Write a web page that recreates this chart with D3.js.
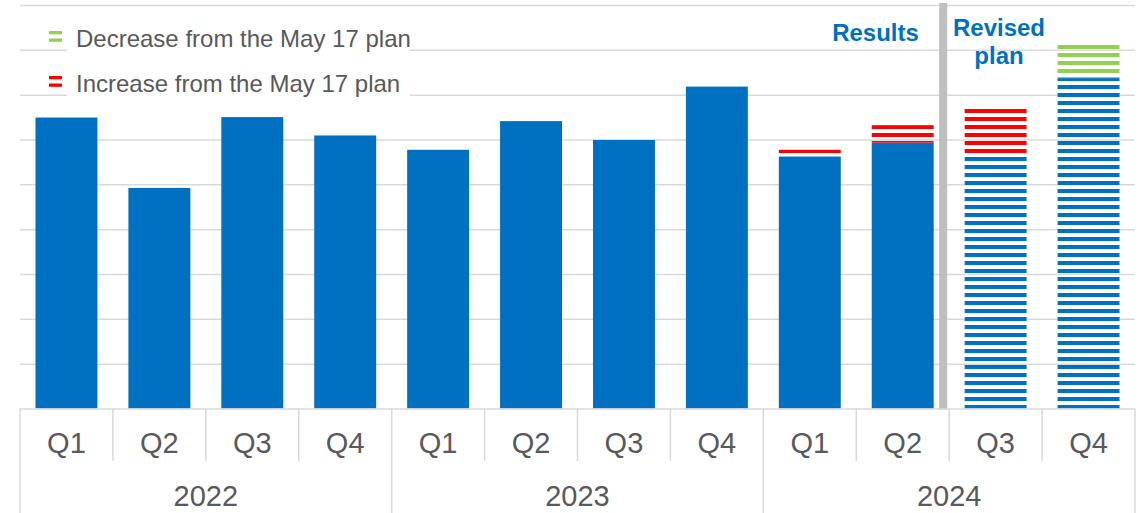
<!DOCTYPE html>
<html>
<head>
<meta charset="utf-8">
<script src="https://cdn.jsdelivr.net/npm/d3@7"></script>
<style>
  html, body { margin: 0; padding: 0; background: #ffffff; }
  svg { display: block; font-family: "Liberation Sans", Arial, sans-serif; }
</style>
</head>
<body>
<script>
// Quarterly values, in chart units (one unit per gridline)
const yearLabels = ["2022", "2023", "2024"];
const quarterLabels = ["Q1", "Q2", "Q3", "Q4"];
const periodKind = ["result", "result", "result", "result",
                    "result", "result", "result", "result",
                    "result", "result", "plan", "plan"];
const baseValues = [6.49, 4.92, 6.50, 6.09, 5.77, 6.41, 5.99, 7.18, 5.62, 5.93, 5.66, 7.37];
const increaseValues = [0, 0, 0, 0, 0, 0, 0, 0, 0.15, 0.39, 1.04, 0];
const decreaseValues = [0, 0, 0, 0, 0, 0, 0, 0, 0, 0, 0, 0.77];
const legendLabels = ["Decrease from the May 17 plan", "Increase from the May 17 plan"];
const sectionLabels = ["Results", "Revised plan"];

const W = 1143, H = 513;
const plotLeft = 20, plotRight = 1135, plotTop = 5, plotBase = 408.5;
const blue = "#0070c0", red = "#ff0000", green = "#92d050";
const gridColor = "#d9d9d9", textColor = "#595959";

const periods = yearLabels.flatMap(yr => quarterLabels.map(q => yr + " " + q));
const rows = periods.map((p, i) => ({
  period: p, kind: periodKind[i],
  base: baseValues[i], increase: increaseValues[i], decrease: decreaseValues[i]
}));

const svg = d3.select("body").append("svg").attr("width", W).attr("height", H);

// Horizontal stripe fills for plan / change segments
const defs = svg.append("defs");
function stripe(id, color) {
  const p = defs.append("pattern").attr("id", id)
    .attr("patternUnits", "userSpaceOnUse")
    .attr("x", 0).attr("y", 5).attr("width", W).attr("height", 8);
  p.append("rect").attr("x", 0).attr("y", 0).attr("width", W).attr("height", 4).attr("fill", color);
}
stripe("stripe-blue", blue);
stripe("stripe-red", red);
stripe("stripe-green", green);

const x = d3.scaleBand().domain(periods).range([plotLeft, plotRight])
  .paddingInner(1 / 3).paddingOuter(1 / 6);
const y = d3.scaleLinear().domain([0, 9]).range([plotBase, plotTop]);

// Gridlines
const grid = svg.append("g").attr("transform", `translate(${plotLeft},0)`)
  .call(d3.axisLeft(y).tickValues(d3.range(1, 10)).tickSize(-(plotRight - plotLeft)).tickFormat(""));
grid.select(".domain").remove();
grid.selectAll(".tick line").attr("stroke", gridColor).attr("stroke-width", 1.5);

// Legend (white panel interrupts the gridlines behind the labels)
const legend = svg.append("g");
legend.append("rect").attr("x", 67).attr("y", 18).attr("width", 343).attr("height", 82).attr("fill", "#fff");
const legendColors = [green, red];
const legendY = [46.5, 91.5];
legendLabels.forEach((t, i) => {
  const g = legend.append("g");
  g.append("rect").attr("x", 49).attr("y", legendY[i] - 15.5).attr("width", 13).attr("height", 3.3).attr("fill", legendColors[i]);
  g.append("rect").attr("x", 49).attr("y", legendY[i] - 8).attr("width", 13).attr("height", 3.3).attr("fill", legendColors[i]);
  g.append("text").attr("x", 76).attr("y", legendY[i]).attr("font-size", 24)
    .attr("fill", textColor).text(t);
});

// Stacked bars
const stack = d3.stack().keys(["base", "increase", "decrease"])(rows);
function fillFor(key, d) {
  if (key === "base") return d.data.kind === "plan" ? "url(#stripe-blue)" : blue;
  if (key === "increase") return "url(#stripe-red)";
  return "url(#stripe-green)";
}
svg.append("g").selectAll("g").data(stack).join("g")
  .selectAll("rect").data(s => s.map(d => ({ key: s.key, d })))
  .join("rect")
  .filter(o => o.d[1] - o.d[0] > 0)
  .attr("x", o => x(o.d.data.period))
  .attr("width", x.bandwidth())
  .attr("y", o => y(o.d[1]))
  .attr("height", o => y(o.d[0]) - y(o.d[1]))
  .attr("fill", o => fillFor(o.key, o.d));

// Divider between results and revised plan
const firstPlan = periods[periodKind.indexOf("plan")];
const divX = x(firstPlan) - x.step() * x.paddingInner() / 2 - 10;
svg.append("rect").attr("x", divX).attr("y", 3).attr("width", 8).attr("height", plotBase + 1 - 3)
  .attr("fill", "#bfbfbf");

// Section titles
const sec = svg.append("g").attr("fill", blue).attr("font-weight", "bold")
  .attr("font-size", 24).attr("text-anchor", "middle");
sec.append("text").attr("x", 875.5).attr("y", 40.5).text(sectionLabels[0]);
const rev = sec.append("text").attr("x", 999);
sectionLabels[1].split(" ").forEach((w, i) => {
  rev.append("tspan").attr("x", 999).attr("y", 36 + i * 27.5).text(w);
});

// Category axis: quarter row and year row
const step = x.step();
const axis = svg.append("g");
axis.append("line").attr("x1", plotLeft).attr("x2", plotRight).attr("y1", plotBase + 0.5).attr("y2", plotBase + 0.5)
  .attr("stroke", gridColor).attr("stroke-width", 1.5);
d3.range(periods.length + 1).forEach(i => {
  const xx = plotLeft + i * step;
  axis.append("line").attr("x1", xx).attr("x2", xx)
    .attr("y1", plotBase).attr("y2", i % quarterLabels.length === 0 ? H : 461)
    .attr("stroke", gridColor).attr("stroke-width", 1.5);
});
axis.selectAll(".q").data(periods).join("text").attr("class", "q")
  .attr("x", p => x(p) + x.bandwidth() / 2).attr("y", 453)
  .attr("text-anchor", "middle").attr("font-size", 29).attr("fill", textColor)
  .text((p, i) => quarterLabels[i % quarterLabels.length]);
axis.selectAll(".yr").data(yearLabels).join("text").attr("class", "yr")
  .attr("x", (yr, i) => plotLeft + (i + 0.5) * quarterLabels.length * step).attr("y", 506)
  .attr("text-anchor", "middle").attr("font-size", 29).attr("fill", textColor)
  .text(yr => yr);
</script>
</body>
</html>
